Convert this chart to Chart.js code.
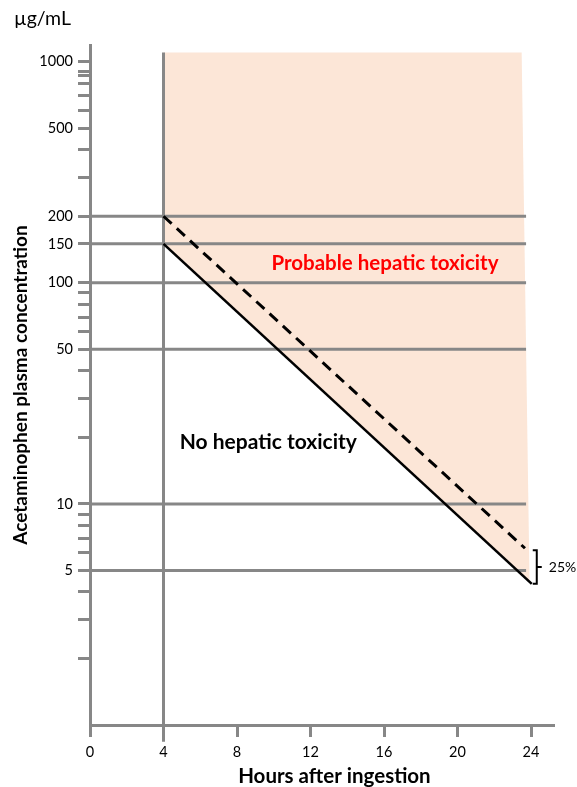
<!DOCTYPE html>
<html>
<head>
<meta charset="utf-8">
<script src="https://cdn.jsdelivr.net/npm/chart.js@4/dist/chart.umd.min.js"></script>
<style>
  html, body { margin: 0; padding: 0; background: #fff; }
  #wrap { width: 577px; height: 787px; }
</style>
</head>
<body>
<div id="wrap"><canvas id="nomogram" width="577" height="787"></canvas></div>
<script>
// Hours after ingestion shown on the x axis
const hourTicks = [0, 4, 8, 12, 16, 20, 24];

// Concentration tick marks (µg/mL) on the log axis, and the ones that get a label
const concTicks = [1000, 900, 870, 800, 700, 600, 500, 400, 300, 200, 150, 100,
                   90, 80, 70, 60, 50, 40, 30, 20, 10, 9, 8, 7, 6, 5, 4, 3, 2];
const concLabels = [1000, 500, 200, 150, 100, 50, 10, 5];

// Horizontal reference levels (µg/mL) and how far they run (hours)
const refLevels = [200, 150, 100, 50, 10, 5];
const refEndHour = 23.73;

// Treatment line: 150 µg/mL at 4 h falling to ~4.35 µg/mL at 24 h
const treatHours = [4, 24.04];
const treatConc = [150, 4.35];

// Line 25% above it: 200 µg/mL at 4 h
const upperHours = [4, 23.67];
const upperConc = [200, 6.3];

// Shaded "probable hepatic toxicity" zone outline
const zoneHours = [4, 23.49, 23.92, 4];
const zoneConc = [1100, 1100, 4.44, 150];

// The 4-hour marker line
const markHours = [4, 4];
const markConc = [0.84, 1100];

const GRAY = '#878787';
const FONT = 'Lato, "Open Sans", sans-serif';

const pts = (xs, ys) => xs.map((x, i) => ({ x, y: ys[i] }));

const datasets = [
  {
    label: 'treatment', data: pts(treatHours, treatConc),
    borderColor: '#000', borderWidth: 2.6, order: 0
  },
  {
    label: 'upper', data: pts(upperHours, upperConc),
    borderColor: '#000', borderWidth: 3, borderDash: [11, 7], order: 1
  },
  {
    label: 'four hours', data: pts(markHours, markConc),
    borderColor: GRAY, borderWidth: 3, clip: false, order: 2
  },
  ...refLevels.map(v => ({
    label: 'level ' + v, data: pts([0, refEndHour], [v, v]),
    borderColor: GRAY, borderWidth: 3, order: 3
  })),
  {
    label: 'zone', data: pts(zoneHours, zoneConc),
    borderWidth: 0, borderColor: 'rgba(0,0,0,0)',
    backgroundColor: '#FCE6D7', fill: 'shape', order: 10
  }
].map(d => Object.assign({ type: 'line', showLine: true, pointRadius: 0, tension: 0 }, d));

// Text annotations, x-axis caption and the 25% bracket
const annotations = {
  id: 'annotations',
  afterDatasetsDraw(chart) {
    const { ctx, scales: { x, y } } = chart;
    ctx.save();
    ctx.textBaseline = 'middle';

    ctx.fillStyle = '#000';
    ctx.font = '19.5px ' + FONT;
    ctx.textAlign = 'left';
    ctx.fillText('µg/mL', 14, 19);

    ctx.font = 'bold 20.5px ' + FONT;
    ctx.textAlign = 'center';
    ctx.fillText('Hours after ingestion', x.getPixelForValue(13.3), 776);

    ctx.fillStyle = '#FF0000';
    ctx.font = 'bold 20.5px ' + FONT;
    ctx.fillText('Probable hepatic toxicity', x.getPixelForValue(16.05), y.getPixelForValue(122));

    ctx.fillStyle = '#000';
    ctx.font = 'bold 21px ' + FONT;
    ctx.fillText('No hepatic toxicity', x.getPixelForValue(9.7), y.getPixelForValue(19));

    // bracket spanning the gap between the two line ends
    const top = y.getPixelForValue(upperConc[1]) + 2;
    const bot = y.getPixelForValue(treatConc[1]);
    const bx = x.getPixelForValue(treatHours[1]) + 5;
    const mid = (top + bot) / 2;
    ctx.strokeStyle = '#000';
    ctx.lineWidth = 2;
    ctx.beginPath();
    ctx.moveTo(bx - 4, top);
    ctx.lineTo(bx, top);
    ctx.lineTo(bx, bot);
    ctx.lineTo(bx - 4, bot);
    ctx.moveTo(bx, mid);
    ctx.lineTo(bx + 5, mid);
    ctx.stroke();

    ctx.font = '14px ' + FONT;
    ctx.textAlign = 'left';
    ctx.fillText('25%', bx + 12, mid);
    ctx.restore();
  }
};

new Chart(document.getElementById('nomogram'), {
  type: 'scatter',
  data: { datasets },
  options: {
    responsive: false,
    devicePixelRatio: 1,
    animation: false,
    events: [],
    layout: { padding: { top: 45, right: 23, left: 0, bottom: 0 } },
    plugins: { legend: { display: false }, tooltip: { enabled: false } },
    scales: {
      x: {
        type: 'linear', min: 0, max: 25.25,
        border: { display: true, color: GRAY, width: 3 },
        grid: { drawOnChartArea: false, drawTicks: true, tickLength: 12, tickWidth: 3, tickColor: GRAY },
        afterBuildTicks: s => { s.ticks = hourTicks.map(v => ({ value: v })); },
        ticks: { autoSkip: false, maxRotation: 0, color: '#000', padding: 7, font: { family: FONT, size: 14.5 } },
        afterFit: s => { s.height = 62; }
      },
      y: {
        type: 'logarithmic', min: 1, max: 1190,
        border: { display: true, color: GRAY, width: 3 },
        grid: { drawOnChartArea: false, drawTicks: true, tickLength: 12, tickWidth: 3, tickColor: GRAY },
        afterBuildTicks: s => { s.ticks = concTicks.map(v => ({ value: v })); },
        ticks: {
          autoSkip: false, color: '#000', padding: 5, font: { family: FONT, size: 14.5 },
          callback: v => concLabels.includes(v) ? String(v) : ''
        },
        afterFit: s => { s.width = 90; },
        title: {
          display: true, text: 'Acetaminophen plasma concentration', color: '#000',
          font: { family: FONT, size: 19, weight: 'bold' }, padding: { top: 9, bottom: 0 }
        }
      }
    }
  },
  plugins: [annotations]
});
</script>
</body>
</html>
